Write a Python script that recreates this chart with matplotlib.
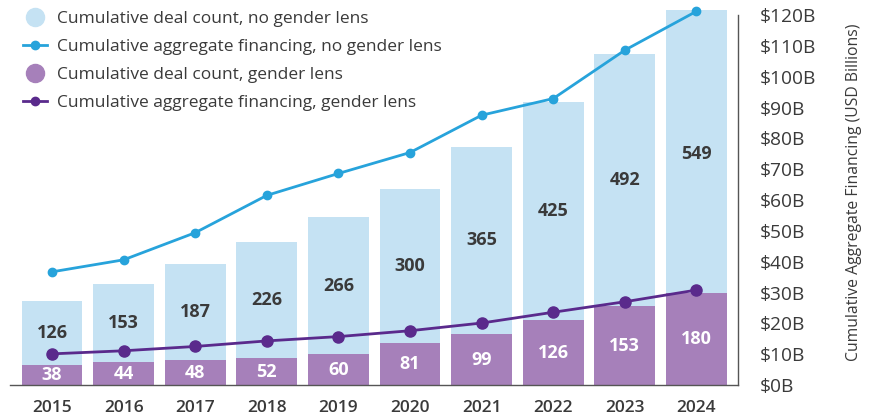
import matplotlib
matplotlib.use("Agg")
import matplotlib.pyplot as plt
from matplotlib.lines import Line2D
import numpy as np

plt.rcParams['font.family'] = ['Open Sans', 'DejaVu Sans']

years = ["2015", "2016", "2017", "2018", "2019", "2020", "2021", "2022", "2023", "2024"]
deals_no_lens = [126, 153, 187, 226, 266, 300, 365, 425, 492, 549]
deals_lens = [38, 44, 48, 52, 60, 81, 99, 126, 153, 180]
financing_no_lens = [36.7, 40.6, 49.4, 61.5, 68.6, 75.4, 87.5, 92.9, 108.6, 121.2]
financing_lens = [10.1, 11.1, 12.5, 14.3, 15.7, 17.6, 20.1, 23.6, 27.0, 30.8]

c_light = "#c5e2f3"
c_purple_bar = "#a680ba"
c_blue_line = "#27a3db"
c_purple_line = "#5a2a8c"
c_text = "#3a3a3a"

W, H = 871, 417
fig = plt.figure(figsize=(W / 100, H / 100), dpi=100)
x0, x1, y0, y1 = 10, 738, 385, 15
ax = fig.add_axes([x0 / W, 1 - y0 / H, (x1 - x0) / W, (y0 - y1) / H])

x = np.arange(len(years))
bw = 0.85
b1 = ax.bar(x, deals_lens, bw, color=c_purple_bar, zorder=2, clip_on=False)
b2 = ax.bar(x, deals_no_lens, bw, bottom=deals_lens, color=c_light, zorder=2, clip_on=False)
ax.bar_label(b1, labels=[str(v) for v in deals_lens], label_type='center',
             color='white', fontsize=13, fontweight='bold')
ax.bar_label(b2, labels=[str(v) for v in deals_no_lens], label_type='center',
             color=c_text, fontsize=13, fontweight='bold')

ax.set_xlim(-0.587, 9.58)
ax.set_ylim(0, 720)
ax.set_yticks([])
ax.set_xticks(x)
ax.set_xticklabels(years, fontsize=12.5, fontweight='semibold', color=c_text)
ax.tick_params(axis='x', length=0, pad=11)
for s in ['top', 'left', 'right']:
    ax.spines[s].set_visible(False)
ax.spines['bottom'].set_color('#555555')
ax.spines['bottom'].set_linewidth(1)

ax2 = ax.twinx()
ax2.plot(x, financing_no_lens, color=c_blue_line, lw=2, marker='o', ms=6, zorder=3, clip_on=False)
ax2.plot(x, financing_lens, color=c_purple_line, lw=2, marker='o', ms=8, zorder=3, clip_on=False)
ax2.set_ylim(0, 120)
ax2.set_yticks(np.arange(0, 121, 10))
ax2.set_yticklabels([f"${v}B" for v in range(0, 121, 10)], fontsize=13.8, color=c_text)
ax2.tick_params(axis='y', length=0, pad=16)
for lab in ax2.get_yticklabels():
    lab.set_horizontalalignment('left')
for s in ['top', 'left', 'bottom']:
    ax2.spines[s].set_visible(False)
ax2.spines['right'].set_color('#555555')
ax2.spines['right'].set_linewidth(1)
ax2.set_ylabel("Cumulative Aggregate Financing (USD Billions)", fontsize=11.3,
               color=c_text)
ax2.yaxis.set_label_coords(1.148, 0.52)

handles = [
    Line2D([], [], ls='none', marker='o', ms=13, color=c_light),
    Line2D([], [], color=c_blue_line, lw=2, marker='o', ms=6),
    Line2D([], [], ls='none', marker='o', ms=13, color=c_purple_bar),
    Line2D([], [], color=c_purple_line, lw=2, marker='o', ms=6),
]
labels = [
    "Cumulative deal count, no gender lens",
    "Cumulative aggregate financing, no gender lens",
    "Cumulative deal count, gender lens",
    "Cumulative aggregate financing, gender lens",
]
leg = fig.legend(handles, labels, loc='upper left', bbox_to_anchor=(0.008, 1.012),
                 frameon=False, fontsize=12.5, handlelength=1.4, handletextpad=0.6,
                 labelspacing=0.68, labelcolor=c_text)

fig.savefig("out.png", dpi=100)
